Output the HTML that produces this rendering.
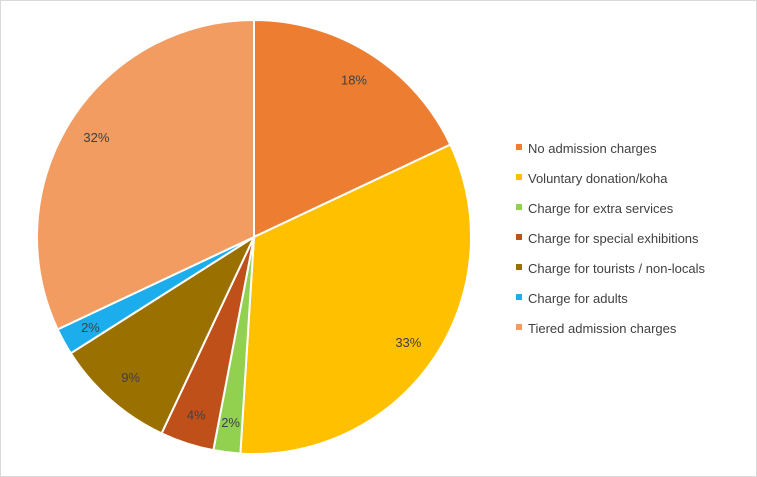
<!DOCTYPE html>
<html><head><meta charset="utf-8"><style>
body{margin:0;background:#fff;}
svg{display:block;font-family:"Liberation Sans",sans-serif;}
</style></head><body>
<svg id="chart" width="757" height="477">
<rect x="0.5" y="0.5" width="756" height="476" fill="#fff" stroke="#d9d9d9"/>
<g id="slices"></g><g id="labels"></g><g id="legend"></g>
</svg>
<script>
const categories=["No admission charges","Voluntary donation/koha","Charge for extra services","Charge for special exhibitions","Charge for tourists / non-locals","Charge for adults","Tiered admission charges"];
const values=[18,33,2,4,9,2,32];
const valueLabels=["18%","33%","2%","4%","9%","2%","32%"];
const colors=["#ED7D31","#FFC000","#92D050","#C0501A","#9A7000","#1CAEEC","#F29C62"];
const NS="http://www.w3.org/2000/svg";
const cx=254,cy=237,r=217;
const total=values.reduce((a,b)=>a+b,0);
const pt=(a,rr)=>[cx+rr*Math.sin(a),cy-rr*Math.cos(a)];
let acc=0;
const gs=document.getElementById('slices'),gl=document.getElementById('labels'),gg=document.getElementById('legend');
values.forEach((v,i)=>{
 const a0=acc/total*2*Math.PI;acc+=v;const a1=acc/total*2*Math.PI;
 const p0=pt(a0,r),p1=pt(a1,r);const large=(a1-a0)>Math.PI?1:0;
 const p=document.createElementNS(NS,'path');
 p.setAttribute('d',`M${cx},${cy}L${p0[0]},${p0[1]}A${r},${r} 0 ${large} 1 ${p1[0]},${p1[1]}Z`);
 p.setAttribute('fill',colors[i]);p.setAttribute('stroke','#fff');p.setAttribute('stroke-width','2');
 
 
 gs.appendChild(p);
 const m=(a0+a1)/2,lp=pt(m,r*0.86);
 const t=document.createElementNS(NS,'text');
 t.setAttribute('x',lp[0]);t.setAttribute('y',lp[1]+5);t.setAttribute('text-anchor','middle');
 t.setAttribute('font-size','13');t.setAttribute('fill','#404040');t.textContent=valueLabels[i];
 
 
 gl.appendChild(t);
 const y=148+i*30;
 const g=document.createElementNS(NS,'g');
 
 
 const s=document.createElementNS(NS,'rect');
 s.setAttribute('x',516);s.setAttribute('y',y-4);s.setAttribute('width',6);s.setAttribute('height',6);s.setAttribute('fill',colors[i]);
 const lt=document.createElementNS(NS,'text');
 lt.setAttribute('x',528);lt.setAttribute('y',y+5);lt.setAttribute('font-size','13');lt.setAttribute('fill','#404040');lt.textContent=categories[i];
 g.appendChild(s);g.appendChild(lt);gg.appendChild(g);
});
</script>
</body></html>
